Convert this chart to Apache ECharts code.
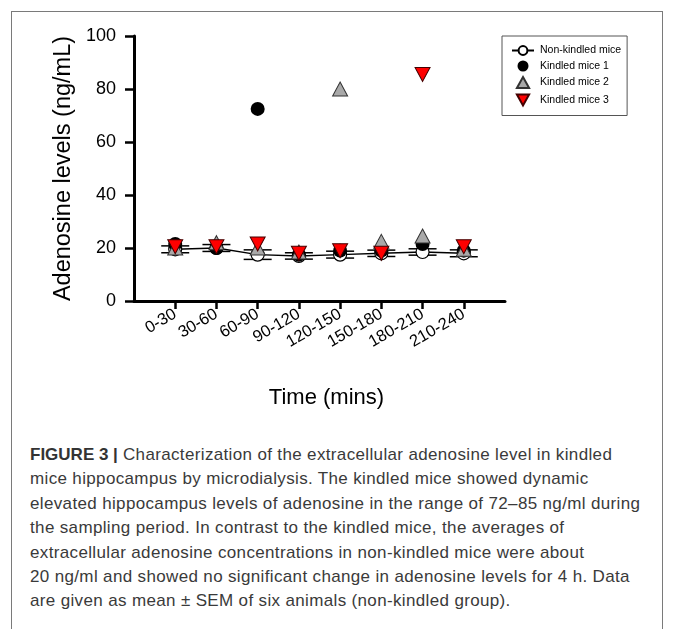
<!DOCTYPE html>
<html>
<head>
<meta charset="utf-8">
<script src="https://cdn.jsdelivr.net/npm/echarts@6/dist/echarts.min.js"></script>
<style>
  html, body { margin: 0; padding: 0; background: #fff; }
  body { width: 674px; height: 629px; position: relative; overflow: hidden; }
  #frame { position: absolute; left: 11px; top: 11px; width: 650px; height: 700px; border: 1px solid #7a7a7a; }
  #chart { position: absolute; left: 0; top: 0; width: 674px; height: 440px; }
  #caption {
    position: absolute; left: 30px; top: 443px; width: 630px;
    font-family: "Liberation Sans", Arial, sans-serif; font-size: 17px; line-height: 24.4px;
    letter-spacing: 0.35px; color: #3a3a3a; white-space: nowrap;
  }
  #caption b { color: #333; letter-spacing: 0; }
</style>
</head>
<body>
<div id="frame"></div>
<div id="chart"></div>
<div id="caption">
  <b>FIGURE 3 |</b> Characterization of the extracellular adenosine level in kindled<br>
  mice hippocampus by microdialysis. The kindled mice showed dynamic<br>
  elevated hippocampus levels of adenosine in the range of 72–85 ng/ml during<br>
  the sampling period. In contrast to the kindled mice, the averages of<br>
  extracellular adenosine concentrations in non-kindled mice were about<br>
  20 ng/ml and showed no significant change in adenosine levels for 4 h. Data<br>
  are given as mean ± SEM of six animals (non-kindled group).
</div>
<script>
  // time windows (mins)
  var timeLabels = ['0-30', '30-60', '60-90', '90-120', '120-150', '150-180', '180-210', '210-240']
  // adenosine levels, ng/mL
  var nonKindled = [19.5, 20, 17.5, 17, 17.5, 18, 18.5, 18]
  var nonKindledSem = [1.3, 1.3, 1.8, 1.2, 1.3, 1.2, 1.2, 1.3]
  var kindled1 = [21.5, 20, 72.5, 17.5, 19, 19, 21.5, 19]
  var kindled2 = [20, 22, 20, 18.5, 80, 22.5, 24.5, 19.5]
  var kindled3 = [20.5, 20.5, 21.5, 18, 19, 18, 85.5, 20.5]
  var yTicks = [0, 20, 40, 60, 80, 100]

  var positions = timeLabels.map(function (t, i) { return i + 1 })
  function pairs(arr) {
    return arr.map(function (v, i) { return [positions[i], v] })
  }
  var upTriangle = 'path://M10,0 L20,18 L0,18 Z'
  var downTriangle = 'path://M0,0 L20,0 L10,18 Z'
  var font = '"Liberation Sans", Arial, sans-serif'

  var chart = echarts.init(document.getElementById('chart'), null, { renderer: 'canvas' })
  chart.setOption({
    animation: false,
    textStyle: { fontFamily: font },
    grid: { left: 134, top: 36, width: 371, height: 265 },
    legend: {
      orient: 'vertical',
      left: 502,
      top: 36,
      padding: [9, 6, 9, 9],
      itemWidth: 22,
      itemHeight: 11,
      itemGap: 4.5,
      symbolKeepAspect: true,
      borderColor: '#555',
      borderWidth: 1,
      textStyle: { fontSize: 10.5, color: '#000', fontFamily: font, padding: [0, 0, 0, 1] },
      data: ['Non-kindled mice', 'Kindled mice 1', 'Kindled mice 2', 'Kindled mice 3']
    },
    xAxis: {
      type: 'value',
      min: 0,
      max: 9,
      interval: 1,
      name: 'Time (mins)',
      nameLocation: 'middle',
      nameGap: 86,
      nameTextStyle: { fontSize: 22, color: '#000', padding: [0, 0, 0, 14] },
      axisLine: { lineStyle: { color: '#000', width: 3 } },
      axisTick: { customValues: positions, length: 8, lineStyle: { color: '#000', width: 2.5 } },
      axisLabel: {
        customValues: positions,
        formatter: function (v) { return timeLabels[v - 1] },
        rotate: 30,
        margin: 12,
        fontSize: 16.5,
        color: '#000'
      },
      splitLine: { show: false }
    },
    yAxis: {
      type: 'value',
      min: yTicks[0],
      max: yTicks[yTicks.length - 1],
      interval: 20,
      name: 'Adenosine levels (ng/mL)',
      nameLocation: 'middle',
      nameGap: 43,
      nameTextStyle: { fontSize: 23.5, color: '#000' },
      axisLine: { show: true, lineStyle: { color: '#000', width: 3 } },
      axisTick: { show: true, length: 9, lineStyle: { color: '#000', width: 2.5 } },
      axisLabel: { fontSize: 18, color: '#000', margin: 18 },
      splitLine: { show: false }
    },
    series: [
      {
        type: 'custom',
        z: 1,
        data: nonKindled.map(function (v, i) { return [positions[i], v, nonKindledSem[i]] }),
        renderItem: function (params, api) {
          var x = api.value(0), m = api.value(1), e = api.value(2)
          var top = api.coord([x, m + e])
          var bot = api.coord([x, m - e])
          var hw = 14
          var st = { stroke: '#000', lineWidth: 1.5 }
          return {
            type: 'group',
            children: [
              { type: 'line', shape: { x1: top[0], y1: top[1], x2: bot[0], y2: bot[1] }, style: st },
              { type: 'line', shape: { x1: top[0] - hw, y1: top[1], x2: top[0] + hw, y2: top[1] }, style: st },
              { type: 'line', shape: { x1: bot[0] - hw, y1: bot[1], x2: bot[0] + hw, y2: bot[1] }, style: st }
            ]
          }
        }
      },
      {
        name: 'Non-kindled mice',
        type: 'line',
        z: 2,
        data: pairs(nonKindled),
        symbol: 'circle',
        symbolSize: 13,
        lineStyle: { color: '#000', width: 1.5 },
        itemStyle: { color: '#fff', borderColor: '#000', borderWidth: 1.2 }
      },
      {
        name: 'Kindled mice 1',
        type: 'scatter',
        z: 3,
        data: pairs(kindled1),
        symbol: 'circle',
        symbolSize: 14,
        itemStyle: { color: '#000', opacity: 1 }
      },
      {
        name: 'Kindled mice 2',
        type: 'scatter',
        z: 4,
        data: pairs(kindled2),
        symbol: upTriangle,
        symbolSize: [15, 14],
        itemStyle: { color: '#a9a9a9', borderColor: '#333', borderWidth: 1, opacity: 1 }
      },
      {
        name: 'Kindled mice 3',
        type: 'scatter',
        z: 5,
        data: pairs(kindled3),
        symbol: downTriangle,
        symbolSize: [15, 14],
        itemStyle: { color: '#ff0000', borderColor: '#400', borderWidth: 1, opacity: 1 }
      }
    ]
  })
</script>
</body>
</html>
